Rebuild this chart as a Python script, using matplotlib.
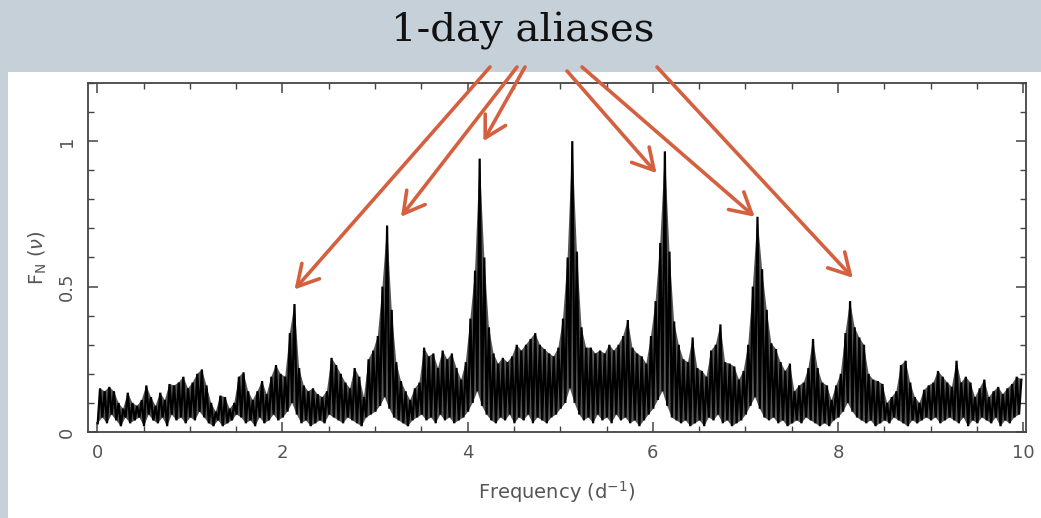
import numpy as np
import matplotlib
matplotlib.use("Agg")
import matplotlib.pyplot as plt
from matplotlib.ticker import MultipleLocator, FixedLocator, FixedFormatter

# periodogram read in steps of 0.05 d^-1: spike tops (at .03, .08, ...) and floors (at .005, .055, ...)
peak_tops = [
    0.15, 0.14, 0.155, 0.14, 0.10, 0.08, 0.135, 0.10, 0.09, 0.11, 0.16, 0.12, 0.09, 0.135, 0.11, 0.165, 0.16, 0.17, 0.19, 0.15,
    0.17, 0.20, 0.215, 0.16, 0.10, 0.07, 0.125, 0.12, 0.08, 0.10, 0.19, 0.205, 0.14, 0.11, 0.14, 0.175, 0.13, 0.19, 0.23, 0.20,
    0.19, 0.34, 0.44, 0.22, 0.16, 0.14, 0.15, 0.13, 0.12, 0.14, 0.255, 0.23, 0.20, 0.17, 0.15, 0.22, 0.19, 0.12, 0.25, 0.28,
    0.33, 0.50, 0.71, 0.42, 0.24, 0.175, 0.14, 0.11, 0.15, 0.17, 0.29, 0.26, 0.27, 0.22, 0.28, 0.25, 0.27, 0.22, 0.18, 0.24,
    0.39, 0.555, 0.94, 0.60, 0.36, 0.27, 0.235, 0.255, 0.24, 0.26, 0.30, 0.28, 0.30, 0.32, 0.34, 0.30, 0.285, 0.27, 0.26, 0.29,
    0.39, 0.60, 1.00, 0.62, 0.36, 0.29, 0.29, 0.27, 0.28, 0.27, 0.30, 0.28, 0.30, 0.33, 0.385, 0.29, 0.27, 0.26, 0.235, 0.33,
    0.45, 0.65, 0.965, 0.62, 0.38, 0.30, 0.25, 0.24, 0.325, 0.22, 0.21, 0.19, 0.28, 0.30, 0.37, 0.24, 0.235, 0.225, 0.18, 0.21,
    0.30, 0.50, 0.74, 0.56, 0.42, 0.305, 0.285, 0.24, 0.21, 0.235, 0.14, 0.16, 0.17, 0.22, 0.32, 0.22, 0.17, 0.16, 0.11, 0.16,
    0.20, 0.34, 0.45, 0.36, 0.325, 0.30, 0.20, 0.18, 0.175, 0.165, 0.10, 0.12, 0.14, 0.23, 0.245, 0.17, 0.12, 0.10, 0.145, 0.16,
    0.17, 0.21, 0.19, 0.17, 0.155, 0.245, 0.17, 0.19, 0.17, 0.12, 0.15, 0.18, 0.12, 0.14, 0.155, 0.13, 0.15, 0.165, 0.19, 0.18,
]
floors = [
    0.03, 0.05, 0.03, 0.06, 0.04, 0.02, 0.05, 0.03, 0.04, 0.05, 0.02, 0.06, 0.04, 0.03, 0.05, 0.02, 0.06, 0.04, 0.05, 0.03,
    0.05, 0.04, 0.07, 0.05, 0.03, 0.02, 0.04, 0.02, 0.03, 0.04, 0.06, 0.05, 0.03, 0.04, 0.02, 0.05, 0.03, 0.04, 0.06, 0.04,
    0.05, 0.07, 0.10, 0.06, 0.03, 0.04, 0.02, 0.03, 0.04, 0.03, 0.06, 0.05, 0.04, 0.03, 0.05, 0.04, 0.03, 0.02, 0.05, 0.06,
    0.07, 0.09, 0.12, 0.08, 0.05, 0.04, 0.03, 0.02, 0.04, 0.05, 0.06, 0.04, 0.05, 0.03, 0.06, 0.04, 0.05, 0.03, 0.04, 0.05,
    0.07, 0.10, 0.14, 0.09, 0.06, 0.04, 0.03, 0.05, 0.04, 0.06, 0.03, 0.05, 0.04, 0.06, 0.03, 0.05, 0.04, 0.03, 0.05, 0.06,
    0.08, 0.10, 0.15, 0.10, 0.06, 0.04, 0.05, 0.03, 0.06, 0.04, 0.05, 0.03, 0.06, 0.04, 0.05, 0.03, 0.04, 0.02, 0.04, 0.06,
    0.08, 0.11, 0.14, 0.09, 0.05, 0.04, 0.03, 0.04, 0.02, 0.03, 0.04, 0.02, 0.05, 0.04, 0.06, 0.03, 0.04, 0.02, 0.03, 0.04,
    0.06, 0.09, 0.12, 0.08, 0.05, 0.04, 0.05, 0.03, 0.04, 0.02, 0.03, 0.04, 0.03, 0.05, 0.04, 0.03, 0.02, 0.03, 0.02, 0.04,
    0.05, 0.07, 0.10, 0.07, 0.05, 0.04, 0.03, 0.04, 0.02, 0.03, 0.04, 0.03, 0.05, 0.04, 0.03, 0.02, 0.04, 0.03, 0.04, 0.05,
    0.04, 0.05, 0.03, 0.04, 0.05, 0.04, 0.03, 0.05, 0.02, 0.04, 0.03, 0.05, 0.04, 0.03, 0.05, 0.02, 0.04, 0.03, 0.05, 0.06,
]
freq_top = np.round(0.03 + 0.05 * np.arange(len(peak_tops)), 3)
freq_floor = np.round(0.005 + 0.05 * np.arange(len(floors)), 3)

# arrows: peak that each one points at (data) and where it leaves the title bar (pixels from top-left)
alias_tips = [(2.13, 0.49), (3.28, 0.74), (4.17, 1.00), (6.04, 0.89), (7.10, 0.74), (8.16, 0.53)]
alias_tails = [(490, 67), (517, 67), (525, 67), (567, 71), (582, 67), (657, 67)]

W, H = 1041, 518
band = "#c5d0d8"
arrow_red = "#d5603f"
grey_txt = "#555555"

fig = plt.figure(figsize=(W / 100, H / 100), dpi=100, facecolor=band)
# white panel under the plot
panel = plt.Rectangle((8 / W, 0), 1 - 8 / W, 1 - 72 / H, transform=fig.transFigure,
                      facecolor="white", edgecolor="none", zorder=-10)
fig.add_artist(panel)
fig.text(0.502, 1 - 31 / H, "1-day aliases", ha="center", va="center",
         fontsize=29, family="DejaVu Serif", color="#111111")

ax = fig.add_axes([88 / W, 1 - 432 / H, (1026 - 88) / W, (432 - 83) / H])
ax.set_facecolor("white")

# dark body between the floor line and the spike-top line
ax.fill(np.concatenate([freq_top, freq_floor[::-1]]),
        np.concatenate([peak_tops, floors[::-1]]),
        color="#555555", lw=0)

# interleave tops and floors into one trace
fx = np.empty(len(freq_top) + len(freq_floor))
fy = np.empty_like(fx)
fx[0::2], fy[0::2] = freq_floor, floors
fx[1::2], fy[1::2] = freq_top, peak_tops
ax.plot(fx, fy, color="black", lw=1.6, solid_joinstyle="miter")

ax.set_xlim(-0.1, 10.03)
ax.set_ylim(0, 1.2)
ax.xaxis.set_major_locator(MultipleLocator(2))
ax.xaxis.set_minor_locator(MultipleLocator(0.5))
ax.yaxis.set_major_locator(FixedLocator([0, 0.5, 1]))
ax.yaxis.set_major_formatter(FixedFormatter(["0", "0.5", "1"]))
ax.yaxis.set_minor_locator(MultipleLocator(0.1))
ax.tick_params(which="both", direction="in", top=True, right=True, color="#444444",
               labelcolor=grey_txt, labelsize=13)
ax.tick_params(which="major", length=7, width=1.1)
ax.tick_params(which="minor", length=4, width=1.0)
ax.tick_params(axis="x", pad=9)
ax.tick_params(axis="y", pad=9)
for lab in ax.get_yticklabels():
    lab.set_rotation(90)
    lab.set_va("center")
for sp in ax.spines.values():
    sp.set_color("#444444")
    sp.set_linewidth(1.3)

ax.set_xlabel("Frequency (d$^{-1}$)", fontsize=14, color=grey_txt, labelpad=12)
ax.set_ylabel(r"F$_\mathrm{N}$ ($\nu$)", fontsize=14, color=grey_txt, labelpad=6)

for tip, tail in zip(alias_tips, alias_tails):
    ax.annotate("", xy=tip, xycoords="data",
                xytext=(tail[0] / W, 1 - tail[1] / H), textcoords="figure fraction",
                arrowprops=dict(arrowstyle="->,head_length=0.75,head_width=0.42", color=arrow_red,
                                lw=2.6, mutation_scale=20, shrinkA=0, shrinkB=0),
                annotation_clip=False)

fig.savefig("out.png", dpi=100, facecolor=band)
